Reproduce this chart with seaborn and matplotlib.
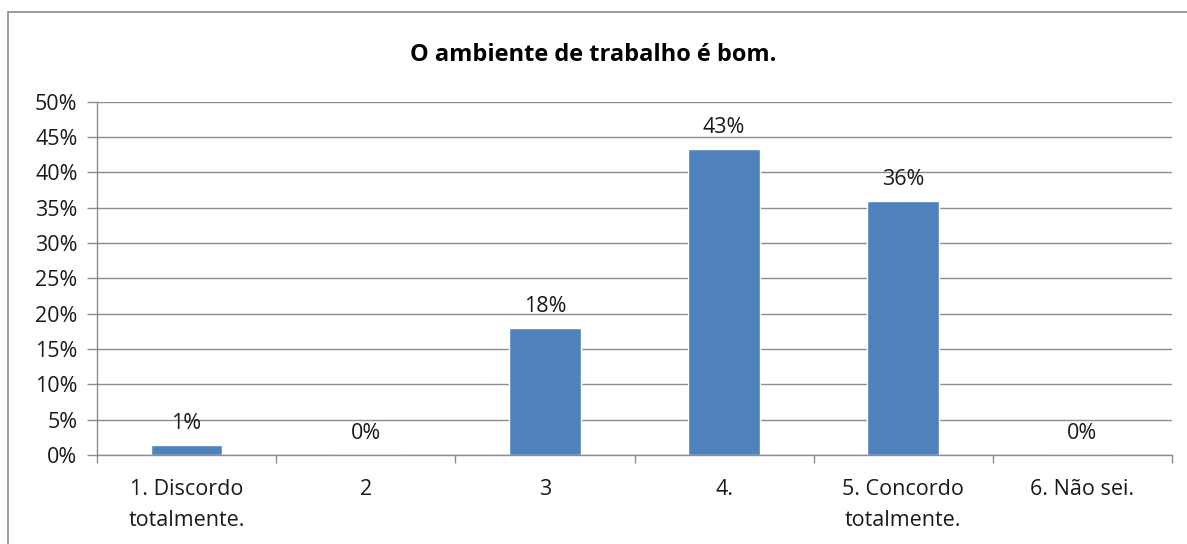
import matplotlib
matplotlib.use('Agg')
import matplotlib.pyplot as plt
import seaborn as sns
import numpy as np
from matplotlib.patches import Rectangle

# Data
categories = ['1. Discordo\ntotalmente.', '2', '3', '4.', '5. Concordo\ntotalmente.', '6. Não sei.']
values = [1.4, 0.0, 18.0, 43.3, 35.9, 0.0]
title = 'O ambiente de trabalho é bom.'

# Style
sns.set_style('white')
plt.rcParams['font.family'] = ['Open Sans', 'DejaVu Sans']
grid_col = '#8c8c8c'
bar_col = '#4F81BD'
txt_col = '#1a1a1a'
fs = 15.5

fig = plt.figure(figsize=(11.87, 5.44), dpi=100)
ax = fig.add_axes([97 / 1187, 1 - 455 / 544, (1172 - 97) / 1187, (455 - 101.5) / 544])

sns.barplot(x=categories, y=values, color=bar_col, width=0.4, ax=ax, saturation=1)

# Data labels
for i, v in enumerate(values):
    ax.annotate(f'{v:.0f}%', (i, v), xytext=(0, 8), textcoords='offset points',
                ha='center', va='bottom', fontsize=fs, color=txt_col)

# Axes
ax.set_xlim(-0.5, len(categories) - 0.5)
ax.set_ylim(0, 50)
ax.set_yticks(np.arange(0, 51, 5))
ax.set_yticklabels([f'{t}%' for t in range(0, 51, 5)], fontsize=fs, color=txt_col)
ax.yaxis.grid(True, color=grid_col, linewidth=1)
ax.set_axisbelow(True)
ax.tick_params(axis='y', length=7, width=1, color=grid_col, pad=7, left=True)
ax.set_xticks(range(len(categories)))
ax.set_xticklabels(categories, fontsize=fs, color=txt_col, linespacing=1.65)
ax.tick_params(axis='x', length=0, pad=17)
ax.set_xticks(np.arange(-0.5, len(categories)), minor=True)
ax.tick_params(axis='x', which='minor', length=6, width=1, color=grid_col, bottom=True)
for s in ['top', 'right']:
    ax.spines[s].set_visible(False)
for s in ['left', 'bottom']:
    ax.spines[s].set_color(grid_col)
    ax.spines[s].set_linewidth(1)
ax.set_xlabel('')
ax.set_ylabel('')

fig.text(0.5, 1 - 55 / 544, title, ha='center', va='center', fontsize=17,
         fontweight='bold', color='black')

# Chart frame
fig.patches.append(Rectangle((8 / 1187, -0.1), 1.1, 1 - 12 / 544 + 0.1,
                             transform=fig.transFigure, fill=False,
                             edgecolor='#8c8c8c', linewidth=1.2))

fig.savefig('out.png', dpi=100)
